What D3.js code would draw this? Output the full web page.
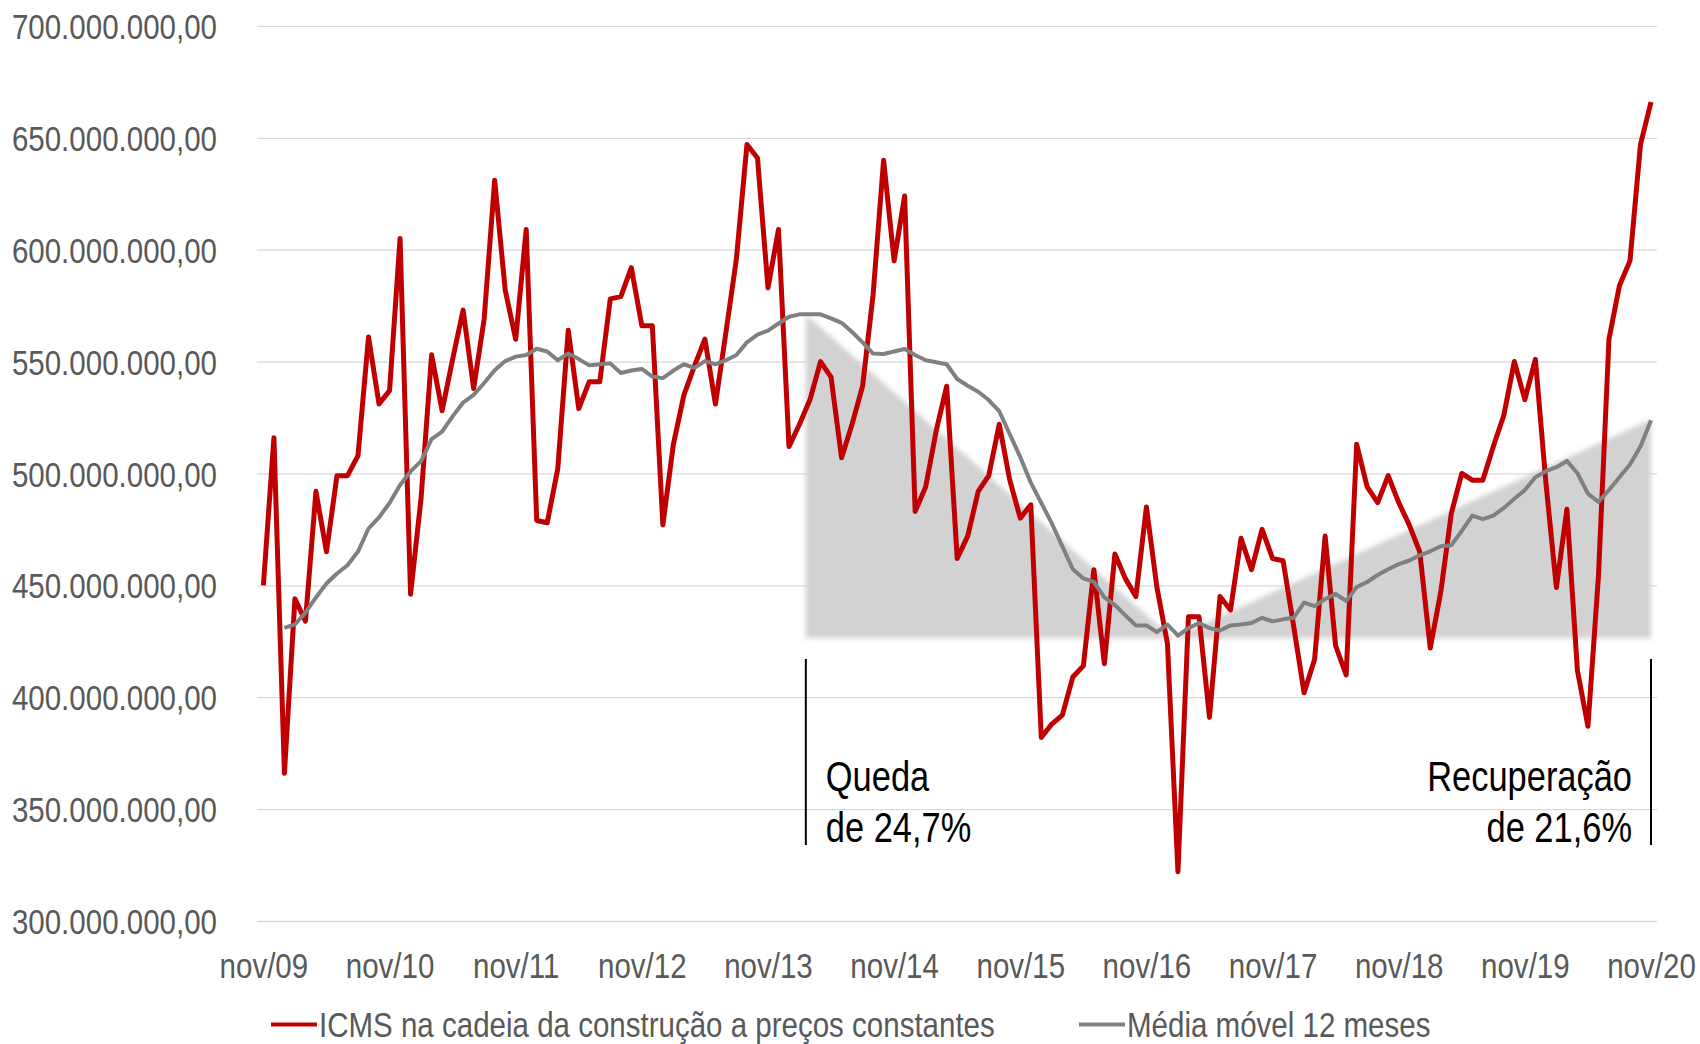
<!DOCTYPE html>
<html>
<head>
<meta charset="utf-8">
<script src="https://cdn.jsdelivr.net/npm/d3@7/dist/d3.min.js"></script>
<style>
  body { margin: 0; background: #fff; }
  svg text { font-family: "Liberation Sans Narrow", "Arial Narrow", "Liberation Sans", Arial, sans-serif; }
</style>
</head>
<body>
<script>
// months are counted from nov/09 (index 0) to nov/20 (index 132)
var xTickLabels = ["nov/09", "nov/10", "nov/11", "nov/12", "nov/13", "nov/14",
                   "nov/15", "nov/16", "nov/17", "nov/18", "nov/19", "nov/20"];
var xTickMonths = [0, 12, 24, 36, 48, 60, 72, 84, 96, 108, 120, 132];

// y ticks in millions of R$
var yTicks = [300, 350, 400, 450, 500, 550, 600, 650, 700];

// ICMS na cadeia da construção (R$ milhões, preços constantes)
var icms = [
  450, 516, 366, 444, 434, 492, 465, 499, 499, 508, 561, 531,
  537, 605, 446, 489, 553, 528, 551, 573, 538, 569, 631, 582,
  560, 609, 479, 478, 502, 564, 529, 541, 541, 578, 579, 592,
  566, 566, 477, 513, 535, 548, 560, 531, 563, 596, 647, 641,
  583, 609, 512, 522, 533, 550, 543, 507, 522, 539, 580, 640,
  595, 624, 483, 494, 519, 539, 462, 472, 492, 499, 522, 497,
  480, 486, 382, 388, 392, 409, 414, 457, 415, 464, 453, 445,
  485, 449, 424, 322, 436, 436, 391, 445, 439, 471, 457, 475,
  462, 461, 432, 402, 417, 472, 423, 410, 513, 494, 487, 499,
  487, 477, 465, 422, 447, 482, 500, 497, 497, 512, 526, 550,
  533, 551, 496, 449, 484, 412, 387, 454, 560, 584, 595, 647,
  666
];

// média móvel 12 meses, starts at month index 2
var mediaStart = 2;
var mediaMovel = [
  431, 432.5, 437.8, 444.6, 450.8, 455.3, 459, 465.1, 475.4, 480.4,
  486.8, 494.8, 500.9, 505.5, 515.3, 518.7, 525.5, 531.7, 535.1, 540.4, 546.1, 550.2,
  552.2, 552.9, 555.7, 554.5, 550.6, 553.6, 551.1, 548.3, 548.8, 549.2, 544.9, 546,
  546.7, 543.3, 542.6, 546, 548.8, 547.2, 550.2, 548.8, 550.6, 552.9, 558.6, 562,
  563.8, 567, 570, 571.1, 571.1, 571.1, 569.3, 567.3, 563.2, 558.6, 553.6, 553.4,
  554.5, 555.6, 552.9, 550.6, 549.7, 548.8, 542.2, 539.2, 536.5, 532.8, 527.8, 517.6,
  507.3, 495.9, 486.8, 477.7, 467.4, 457.2, 453.1, 451.5, 444.6, 441.2, 436.6, 432.1,
  432.1, 429.1, 432.5, 427.5, 430.9, 433.2, 430.9, 429.8, 432.1, 432.5, 433.2, 435.5,
  433.9, 434.8, 435.5, 442.3, 440.7, 443.9, 446.2, 443, 449.2, 451.5, 454.6, 457.2,
  459.5, 461.1, 463.4, 465.2, 467.5, 467.9, 474.3, 481.2, 479.6, 481.2, 484.6, 488.7,
  492.6, 498.3, 501, 502.8, 505.6, 500.1, 491, 487.3, 492.6, 498.3, 504, 512,
  523.8
];

// shaded band: peak -> trough -> end of the moving average
var faixaMeses = [51.6, 86.5, 132];
var faixaValores = [571, 426.4, 524.2];
var faixaBase = 426.4;

var legendLabels = ["ICMS na cadeia da construção a preços constantes", "Média móvel 12 meses"];
var annotationMonths = [51.6, 132];
var annotationTexts = [["Queda", "de 24,7%"], ["Recuperação", "de 21,6%"]];

var width = 1700, height = 1044;
// no narrow font installed, so squeeze the regular one
var sq = 0.82;

var x = d3.scaleLinear().domain([0, 132]).range([263.4, 1651]);
var y = d3.scaleLinear().domain([300, 700]).range([921, 25.9]);

var ptBR = d3.formatLocale({decimal: ",", thousands: ".", grouping: [3], currency: ["R$", ""]});
var fmt = ptBR.format(",.2f");

var svg = d3.select("body").append("svg")
    .attr("width", width)
    .attr("height", height)
    .style("display", "block");

svg.append("rect").attr("width", width).attr("height", height).attr("fill", "#fff");

var defs = svg.append("defs");
defs.append("filter").attr("id", "soft")
    .attr("x", "-5%").attr("y", "-5%").attr("width", "110%").attr("height", "110%")
  .append("feGaussianBlur").attr("stdDeviation", 2.5);

// y axis with gridlines
var yAxis = svg.append("g")
    .attr("transform", "translate(257,0)")
    .call(d3.axisLeft(y)
      .tickValues(yTicks)
      .tickSize(-1400)
      .tickPadding(40)
      .tickFormat(function(d) { return fmt(d * 1e6); }));
yAxis.select(".domain").remove();
yAxis.selectAll(".tick line").attr("stroke", "#d9d9d9").attr("stroke-width", 1.3);
yAxis.selectAll(".tick text")
    .attr("fill", "#595959")
    .style("font-size", "36px")
    .attr("x", -40 / sq)
    .attr("transform", "scale(" + sq + ",1)")
    .attr("dy", "0.35em");

// x axis
var xAxis = svg.append("g")
    .attr("transform", "translate(0,921)")
    .call(d3.axisBottom(x)
      .tickValues(xTickMonths)
      .tickSize(0)
      .tickPadding(31)
      .tickFormat(function(d, i) { return xTickLabels[i]; }));
xAxis.select(".domain").remove();
xAxis.selectAll(".tick text")
    .attr("fill", "#595959")
    .attr("transform", "scale(" + sq + ",1)")
    .style("font-size", "36px");

// shaded band
var bandPts = faixaMeses.map(function(m, i) { return [x(m), y(faixaValores[i])]; });
bandPts.push([x(faixaMeses[2]), y(faixaBase)]);
bandPts.push([x(faixaMeses[0]), y(faixaBase)]);
svg.append("path")
    .attr("d", "M" + bandPts.join("L") + "Z")
    .attr("fill", "#d2d2d2")
    .attr("filter", "url(#soft)");

// lines
var line = d3.line()
    .x(function(d) { return x(d[0]); })
    .y(function(d) { return y(d[1]); });

svg.append("path")
    .datum(icms.map(function(v, i) { return [i, v]; }))
    .attr("d", line)
    .attr("fill", "none")
    .attr("stroke", "#c00000")
    .attr("stroke-width", 5)
    .attr("stroke-linejoin", "round");

svg.append("path")
    .datum(mediaMovel.map(function(v, i) { return [i + mediaStart, v]; }))
    .attr("d", line)
    .attr("fill", "none")
    .attr("stroke", "#808080")
    .attr("stroke-width", 4)
    .attr("stroke-linejoin", "round");

// annotations
annotationMonths.forEach(function(m, i) {
  var ax = x(m);
  svg.append("line")
      .attr("x1", ax).attr("x2", ax)
      .attr("y1", 659).attr("y2", 845)
      .attr("stroke", "#000").attr("stroke-width", 2);
  var t = svg.append("text")
      .attr("fill", "#000")
      .style("font-size", "42px")
      .attr("transform", "scale(" + sq + ",1)")
      .attr("text-anchor", i === 0 ? "start" : "end");
  annotationTexts[i].forEach(function(s, j) {
    t.append("tspan")
        .attr("x", (i === 0 ? ax + 20 : ax - 19) / sq)
        .attr("y", 791 + j * 51)
        .text(s);
  });
});

// legend
var legendColors = ["#c00000", "#808080"];
var legendX = [271, 1079];
var leg = svg.append("g");
legendLabels.forEach(function(s, i) {
  leg.append("line")
      .attr("x1", legendX[i]).attr("x2", legendX[i] + 46)
      .attr("y1", 1024.5).attr("y2", 1024.5)
      .attr("stroke", legendColors[i]).attr("stroke-width", 4);
  leg.append("text")
      .attr("x", (legendX[i] + 48) / sq)
      .attr("y", 1037)
      .attr("transform", "scale(" + sq + ",1)")
      .attr("fill", "#595959")
      .style("font-size", "36px")
      .text(s);
});
</script>
</body>
</html>
